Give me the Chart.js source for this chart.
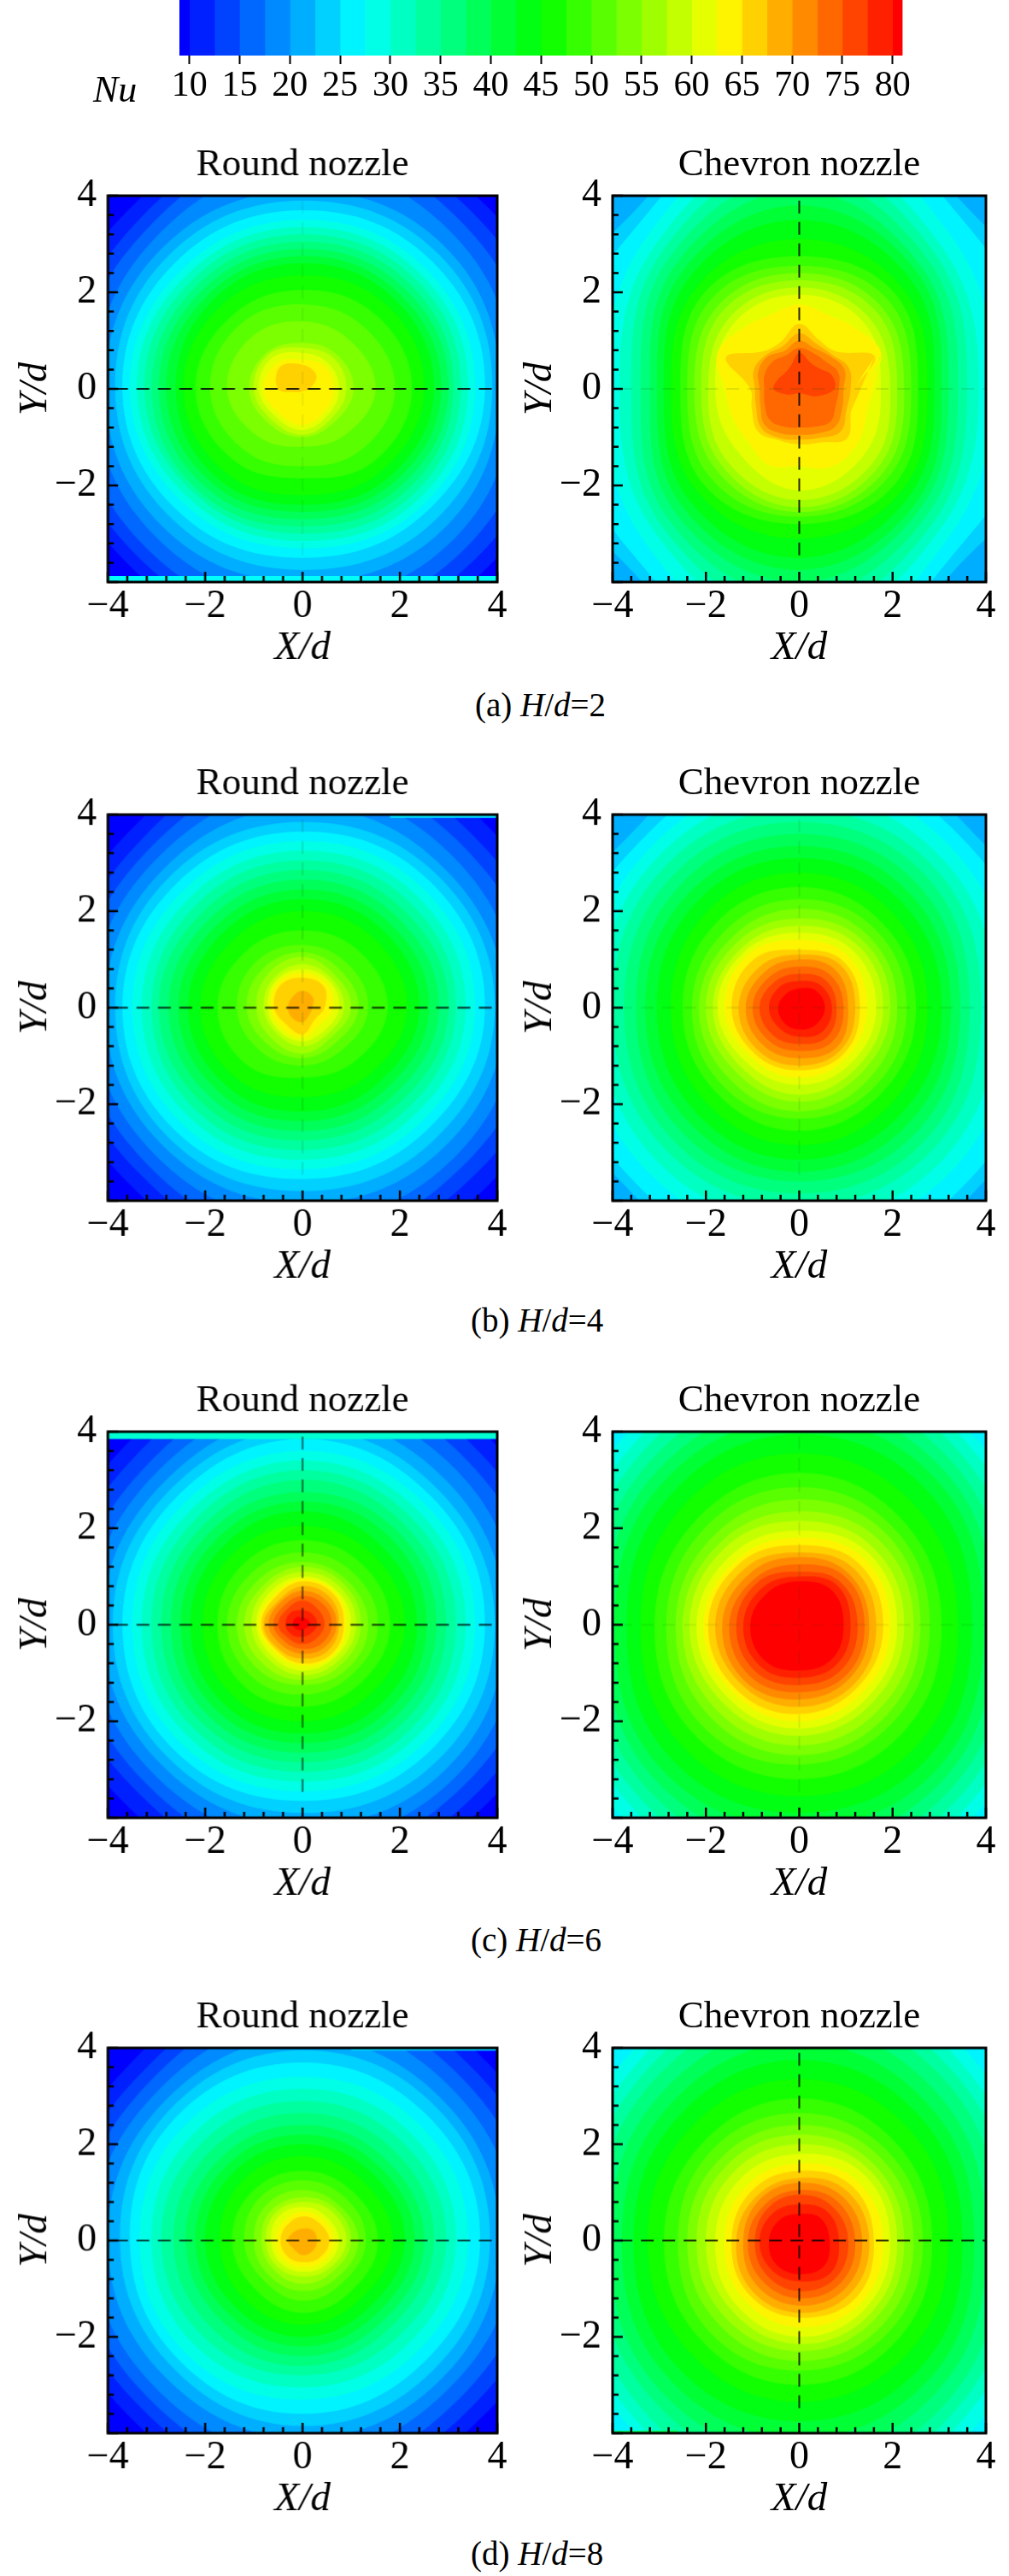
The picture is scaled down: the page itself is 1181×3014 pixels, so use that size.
<!DOCTYPE html>
<html>
<head>
<meta charset="utf-8">
<script src="https://cdn.jsdelivr.net/npm/chart.js@4"></script>
<style>
html, body { margin: 0; padding: 0; background: #fff; }
#page { position: relative; width: 1181px; height: 3014px; overflow: hidden; font-family: "Liberation Serif", serif; color: #000; }
canvas { position: absolute; }
.txt { position: absolute; font-size: 40px; line-height: 42px; white-space: nowrap; }
</style>
</head>
<body>
<div id="page"></div>
<script>
// colour bar
var barEdges = [9, 10, 12.5, 15, 17.5, 20, 22.5, 25, 27.5, 30, 32.5, 35, 37.5, 40, 42.5, 45, 47.5, 50, 52.5, 55, 57.5, 60, 62.5, 65, 67.5, 70, 72.5, 75, 77.5, 80, 81];

// each row is one contour: its Nu level goes up 2.5 per row from the start level,
// the numbers are its radius, going round from +X counter clockwise
var round2Start = 10;
var round2 = [
[5.5,5.35,5.5,5.15,5.3,5.1,5.4,5.3],
[5.1,5.05,5.3,4.85,4.9,4.85,5,5],
[4.7,4.75,5,4.6,4.6,4.6,4.7,4.7],
[4.3,4.45,4.6,4.35,4.25,4.3,4.35,4.4],
[4.05,4.15,4.1,4.1,4.05,4.05,4,4.1],
[3.9,3.95,3.9,3.9,3.85,3.8,3.75,3.85],
[3.75,3.75,3.7,3.7,3.7,3.6,3.5,3.6],
[3.55,3.55,3.5,3.5,3.55,3.4,3.3,3.45],
[3.4,3.4,3.35,3.35,3.4,3.25,3.15,3.3],
[3.25,3.25,3.2,3.2,3.25,3.1,3,3.15],
[3.1,3.1,3.05,3.05,3.1,3,2.85,3],
[3,2.95,2.9,2.9,2.95,2.85,2.7,2.85],
[2.85,2.8,2.75,2.75,2.8,2.7,2.55,2.7],
[2.7,2.65,2.6,2.6,2.6,2.55,2.4,2.55],
[2.5,2.45,2.35,2.4,2.45,2.35,2.2,2.35],
[2.25,2.15,2.05,2.1,2.2,2.05,1.85,2.1],
[1.9,1.8,1.75,1.85,1.9,1.75,1.6,1.75],
[1.5,1.4,1.4,1.5,1.55,1.35,1.2,1.3],
[1.05,1,.95,1.05,1.1,1,1,.95],
[.9,.9,.85,1,1,.9,.95,.85],
[.75,.75,.75,.9,.9,.8,.85,.75],
[.65,.65,.6,.75,.8,.7,.75,.65],
[.15,.4,.5,.65,.5,.1,.05,.05]
];
var chevron2Start = 22.5;
var chevron2 = [
[6.5,5.2,6.5,5.1,6.5,5.2,6.5,5],
[5.2,4.95,6,4.85,5.2,4.95,6,4.75],
[4.15,4.55,5.5,4.55,4.15,4.6,5.5,4.45],
[3.85,4.25,5.1,4.3,3.85,4.3,5,4.2],
[3.6,4.05,4.75,4.1,3.6,4.1,4.65,4],
[3.4,3.85,4.4,3.9,3.4,3.9,4.3,3.8],
[3.2,3.65,4.1,3.7,3.2,3.7,4,3.6],
[3.05,3.5,3.8,3.5,3.05,3.5,3.75,3.45],
[2.9,3.3,3.5,3.3,2.9,3.3,3.5,3.25],
[2.75,3.05,3.1,3.05,2.75,3.05,3.1,3.05],
[2.55,2.85,2.75,2.85,2.55,2.85,2.8,2.85],
[2.4,2.65,2.55,2.65,2.4,2.65,2.65,2.65],
[2.25,2.45,2.4,2.45,2.25,2.45,2.55,2.5],
[2.1,2.3,2.25,2.3,2.1,2.3,2.45,2.35],
[1.95,2.1,2.1,2.1,1.95,2.15,2.3,2.2],
[1.75,1.95,1.95,1.95,1.8,1.85,2.1,1.95],
[1.45,1.9,1.75,1.65,1.75,1.65,1.75,1.9,1.6,1.55,1.55,1.7,1.6,1.75,1.7,1.55],
[1.2,1.75,1.1,1.1,1.35,1.05,1.1,1.7,1.05,1.1,1.25,1.15,1.15,1.2,1.45,1.2],
[1.1,1.15,1,1,1.15,.95,1,1.05,.95,1,1.15,1.1,1.05,1.1,1.25,1.1],
[.95,1.05,.95,.9,1,.85,.95,.95,.85,.9,1.05,1,.95,1,1.1,1],
[.85,.9,.8,.8,.85,.75,.8,.8,.75,.8,.9,.85,.8,.85,.95,.85],
[.75,.75,.6,.6,.75,.5,.45,.5,.55,.3,.15,.1,.1,.1,.15,.4]
];
var round4Start = 10;
var round4 = [
[5.55,5.35,5.6,5.1,5.3,5.1,5.5,5.3],
[5.2,5,5.3,4.8,4.9,4.8,5.1,4.95],
[4.8,4.7,4.9,4.55,4.6,4.55,4.8,4.65],
[4.4,4.4,4.5,4.3,4.3,4.3,4.4,4.4],
[4.15,4.1,4.15,4.05,4.05,4.05,4.05,4.1],
[3.95,3.9,3.85,3.85,3.85,3.85,3.8,3.85],
[3.75,3.7,3.65,3.65,3.7,3.65,3.55,3.6],
[3.55,3.5,3.45,3.45,3.5,3.45,3.35,3.4],
[3.35,3.3,3.25,3.25,3.3,3.25,3.15,3.2],
[3.15,3.1,3.05,3.05,3.1,3.05,2.95,3],
[3,2.9,2.85,2.85,2.95,2.85,2.75,2.8],
[2.8,2.7,2.65,2.65,2.75,2.65,2.55,2.6],
[2.6,2.5,2.45,2.45,2.55,2.45,2.35,2.4],
[2.4,2.3,2.25,2.25,2.35,2.25,2.15,2.2],
[2.15,2.05,2,2,2.1,2,1.85,1.95],
[1.75,1.65,1.6,1.65,1.75,1.65,1.45,1.55],
[1.35,1.3,1.3,1.35,1.35,1.25,1.2,1.2],
[1.15,1.1,1.15,1.15,1.15,1.05,1.05,1],
[1,.95,1.05,1,.95,.9,.95,.85],
[.85,.85,.9,.85,.8,.75,.8,.75],
[.75,.78,.8,.78,.72,.68,.7,.65],
[.62,.7,.72,.72,.65,.6,.62,.5],
[.45,.62,.62,.65,.58,.48,.55,.35],
[.2,.3,.35,.3,.3,.3,.3,.2]
];
var chevron4Start = 22.5;
var chevron4 = [
[6,5.2,6,5.1,6,5.25,6,5.35],
[5.2,4.95,5.2,4.85,5.2,5.05,5.3,5.1],
[4.5,4.65,4.7,4.6,4.55,4.7,4.7,4.7],
[4.2,4.35,4.4,4.35,4.25,4.4,4.4,4.4],
[3.9,4.1,4.1,4.1,4,4.1,4.1,4.1],
[3.65,3.85,3.85,3.85,3.75,3.85,3.85,3.85],
[3.45,3.6,3.6,3.6,3.5,3.6,3.6,3.6],
[3.25,3.35,3.35,3.35,3.3,3.35,3.4,3.35],
[3.05,3.1,3.1,3.1,3.05,3.1,3.15,3.1],
[2.75,2.8,2.8,2.8,2.75,2.8,2.85,2.8],
[2.5,2.5,2.5,2.5,2.5,2.5,2.55,2.5],
[2.3,2.3,2.25,2.25,2.3,2.3,2.3,2.3],
[2.1,2.1,2.05,2.05,2.15,2.1,2.15,2.1],
[1.95,1.95,1.85,1.9,2,1.9,1.95,1.9],
[1.8,1.8,1.7,1.75,1.85,1.75,1.8,1.75],
[1.65,1.65,1.55,1.65,1.75,1.6,1.6,1.6],
[1.45,1.5,1.4,1.55,1.6,1.45,1.45,1.45],
[1.3,1.35,1.2,1.4,1.45,1.35,1.3,1.35],
[1.2,1.25,1.1,1.2,1.3,1.25,1.2,1.25],
[1.05,1.1,1,1.05,1.15,1.1,1.05,1.15],
[.95,.95,.85,.9,1,.95,.9,1],
[.8,.8,.7,.75,.85,.8,.75,.85],
[.7,.65,.55,.6,.65,.6,.6,.7],
[.55,.5,.4,.4,.45,.45,.45,.5]
];
var round6Start = 10;
var round6 = [
[5.6,5.45,5.7,5.2,5.4,5.2,5.5,5.3],
[5.2,5.1,5.4,4.9,5.05,4.85,5.15,5],
[4.8,4.8,5,4.6,4.65,4.6,4.8,4.7],
[4.4,4.5,4.6,4.35,4.35,4.35,4.45,4.45],
[4.15,4.2,4.3,4.1,4.1,4.1,4.15,4.2],
[3.95,3.95,4.05,3.9,3.9,3.9,3.9,3.95],
[3.75,3.75,3.85,3.7,3.7,3.7,3.65,3.7],
[3.55,3.55,3.6,3.5,3.5,3.5,3.45,3.5],
[3.35,3.35,3.4,3.3,3.3,3.3,3.25,3.3],
[3.15,3.15,3.2,3.1,3.1,3.1,3.05,3.1],
[2.95,2.95,3,2.9,2.9,2.9,2.85,2.9],
[2.75,2.75,2.75,2.7,2.7,2.7,2.65,2.7],
[2.55,2.55,2.55,2.5,2.5,2.5,2.45,2.5],
[2.35,2.3,2.35,2.3,2.3,2.3,2.25,2.3],
[2.1,2.05,2.05,2.05,2.05,2.05,2,2],
[1.8,1.75,1.75,1.75,1.75,1.75,1.7,1.7],
[1.55,1.5,1.5,1.5,1.55,1.5,1.45,1.45],
[1.35,1.3,1.3,1.3,1.35,1.3,1.25,1.3],
[1.2,1.2,1.2,1.15,1.2,1.15,1.15,1.15],
[1.1,1.1,1.1,1.05,1.05,1,1.05,1.05],
[1,1,1,.95,.95,.9,.95,.95],
[.9,.95,.95,.85,.9,.8,.85,.9],
[.85,.9,.9,.8,.85,.75,.8,.85],
[.75,.8,.8,.7,.8,.7,.7,.75],
[.7,.7,.7,.65,.7,.6,.6,.65],
[.6,.6,.6,.55,.6,.5,.5,.55],
[.45,.45,.5,.45,.5,.4,.4,.4],
[.3,.3,.3,.35,.35,.3,.25,.25],
[.15,.15,.15,.2,.2,.15,.1,.1]
];
var chevron6Start = 27.5;
var chevron6 = [
[5.55,5.4,6,5.4,5.55,5.5,6,5.45],
[5,5.2,5.7,5.15,5,5.2,5.6,5.2],
[4.7,4.95,5.3,4.9,4.7,4.95,5.2,4.95],
[4.4,4.7,4.9,4.65,4.4,4.7,4.85,4.7],
[4.15,4.45,4.55,4.4,4.15,4.45,4.5,4.45],
[3.95,4.2,4.25,4.15,3.95,4.2,4.2,4.2],
[3.7,3.9,3.95,3.85,3.7,3.9,3.9,3.9],
[3.4,3.5,3.55,3.5,3.4,3.55,3.55,3.55],
[3.05,3.1,3.15,3.1,3.1,3.2,3.2,3.15],
[2.8,2.85,2.85,2.85,2.85,2.95,2.9,2.85],
[2.6,2.65,2.6,2.6,2.65,2.7,2.7,2.65],
[2.45,2.45,2.35,2.4,2.5,2.5,2.5,2.45],
[2.25,2.25,2.15,2.25,2.35,2.3,2.3,2.25],
[2.1,2.1,1.95,2.05,2.2,2.15,2.15,2.1],
[1.95,1.95,1.8,1.9,2.05,2,2,1.95],
[1.8,1.8,1.65,1.8,1.95,1.9,1.85,1.8],
[1.65,1.65,1.5,1.65,1.8,1.75,1.7,1.7],
[1.5,1.5,1.4,1.5,1.65,1.65,1.55,1.55],
[1.4,1.4,1.25,1.35,1.5,1.5,1.4,1.45],
[1.25,1.25,1.1,1.25,1.35,1.35,1.25,1.3],
[1.1,1.15,1,1.1,1.2,1.2,1.1,1.15],
[.95,1,.9,.95,1.05,1.05,.95,1]
];
var round8Start = 10;
var round8 = [
[5.5,5.3,5.7,5.1,5.3,5.1,5.5,5.2],
[5.1,5,5.3,4.8,4.95,4.8,5.15,4.9],
[4.7,4.7,4.95,4.55,4.6,4.55,4.8,4.6],
[4.35,4.4,4.55,4.3,4.3,4.3,4.45,4.3],
[4.05,4.1,4.2,4.05,4,4,4.1,4.05],
[3.85,3.9,3.95,3.85,3.75,3.75,3.85,3.8],
[3.65,3.65,3.7,3.65,3.55,3.55,3.6,3.55],
[3.4,3.4,3.4,3.4,3.35,3.35,3.3,3.3],
[3.15,3.15,3.15,3.15,3.1,3.1,3.05,3.05],
[2.95,2.9,2.9,2.9,2.9,2.85,2.8,2.8],
[2.7,2.65,2.65,2.65,2.65,2.6,2.6,2.55],
[2.5,2.4,2.4,2.4,2.4,2.35,2.4,2.35],
[2.3,2.2,2.2,2.2,2.2,2.15,2.2,2.15],
[2.1,2,2,2,2,1.95,2,1.95],
[1.85,1.75,1.75,1.75,1.7,1.7,1.75,1.7],
[1.55,1.45,1.45,1.45,1.45,1.4,1.5,1.45],
[1.3,1.25,1.25,1.25,1.2,1.15,1.25,1.2],
[1.15,1.05,1.05,1.05,1,1,1.05,1.05],
[1,.95,.9,.9,.85,.85,.9,.9],
[.9,.85,.8,.8,.75,.75,.75,.8],
[.75,.7,.7,.7,.65,.65,.65,.7],
[.65,.6,.6,.55,.55,.55,.55,.6],
[.55,.5,.5,.45,.45,.45,.45,.5],
[.3,.3,.25,.25,.3,.25,.3,.3]
];
var chevron8Start = 27.5;
var chevron8 = [
[5.3,5.3,6,5.3,5.3,5.3,6,5.4],
[4.85,5.05,5.6,5.05,4.85,5.1,5.6,5.1],
[4.55,4.8,5.2,4.8,4.55,4.85,5.2,4.85],
[4.25,4.55,4.8,4.55,4.3,4.55,4.8,4.6],
[4,4.25,4.45,4.25,4.05,4.3,4.45,4.3],
[3.75,3.95,4.1,3.95,3.8,4,4.1,4],
[3.5,3.65,3.75,3.65,3.55,3.7,3.75,3.7],
[3.2,3.3,3.35,3.3,3.25,3.3,3.35,3.3],
[2.85,2.9,2.95,2.9,2.9,2.95,3,2.95],
[2.65,2.65,2.65,2.65,2.6,2.7,2.7,2.7],
[2.45,2.45,2.4,2.4,2.4,2.45,2.5,2.5],
[2.25,2.25,2.2,2.2,2.2,2.25,2.3,2.3],
[2.1,2.1,2,2,2,2.05,2.15,2.15],
[1.95,1.95,1.8,1.8,1.8,1.9,2,2],
[1.8,1.75,1.6,1.6,1.6,1.7,1.8,1.85],
[1.6,1.6,1.45,1.45,1.45,1.55,1.6,1.7],
[1.5,1.45,1.3,1.3,1.35,1.45,1.5,1.55],
[1.35,1.3,1.2,1.2,1.2,1.3,1.35,1.4],
[1.2,1.15,1.05,1.05,1.1,1.15,1.2,1.25],
[1.05,1,.95,.95,.95,1,1.05,1.1],
[.85,.85,.75,.8,.85,.85,.85,.95],
[.65,.65,.55,.6,.65,.7,.7,.75]
];

var contours = [round2, chevron2, round4, chevron4, round6, chevron6, round8, chevron8];
var startLevels = [round2Start, chevron2Start, round4Start, chevron4Start, round6Start, chevron6Start, round8Start, chevron8Start];

var panelTitles = ["Round nozzle", "Chevron nozzle"];
var captionLetters = ["a", "b", "c", "d"];
var captionHd = ["2", "4", "6", "8"];

// dashed centre lines: how dark they show in each panel, and where they run
var crossH = [.85, .12, .85, .1, .8, .08, .7, .8];
var crossV = [.08, .85, .15, .1, .6, .1, 0, .8];
var crossHEnds = [-3.85, 4];
var crossVEnds = [3.9, -3.6];

// thin bright strips along the plate edge: [y, x from, x to, Nu, px wide]
var strips = [[-3.93, -4, 4, 26, 6], null, [3.96, 1.8, 4, 24, 3], null, [3.93, -4, 4, 29, 9], null, [3.97, 1, 4, 23, 3], [-3.98, -4, -2.6, 42, 3]];

// layout in page px
var frameLeft = [126.3, 716.6];
var frameW = [455.4, 437.7];
var rowTop = [229, 953, 1675, 2396];
var rowH = [452, 451.7, 451.8, 450.6];
var captionX = [556, 551, 551, 551];
var captionY = [825, 1545, 2270, 2988];

var serif = "'Liberation Serif', serif";
var page = document.getElementById("page");
Chart.defaults.font.family = serif;
Chart.defaults.color = "#000";
Chart.defaults.animation = false;
Chart.defaults.devicePixelRatio = 1;

function ramp(v) {
	var r = 0, g = 0, b = 0;
	if (v < 27) { g = 255 * (v - 9) / 18; b = 255; }
	else if (v < 45) { g = 255; b = 255 * (45 - v) / 18; }
	else if (v < 63) { r = 255 * (v - 45) / 18; g = 255; }
	else { r = 255; g = 255 * (81 - v) / 18; }
	return "rgb(" + Math.round(r) + "," + Math.round(g) + "," + Math.round(b) + ")";
}
// colour of the band that starts at this level
function bandColor(lo) {
	if (lo < 10) return ramp(9);
	if (lo >= 80) return ramp(81);
	return ramp(lo + 1.25);
}

function addCanvas(left, top, w, h) {
	var cv = document.createElement("canvas");
	cv.width = w;
	cv.height = h;
	cv.style.left = left + "px";
	cv.style.top = top + "px";
	cv.style.width = w + "px";
	cv.style.height = h + "px";
	page.appendChild(cv);
	return cv;
}
function addText(html, left, midY, size) {
	var d = document.createElement("div");
	d.className = "txt";
	d.innerHTML = html;
	d.style.left = left + "px";
	d.style.top = (midY - 21) + "px";
	d.style.fontSize = size + "px";
	page.appendChild(d);
}

// colour bar on top
var barSets = [];
for (var i = 0; i < barEdges.length - 1; i++) {
	barSets.push({
		data: [[barEdges[i], barEdges[i + 1]]],
		backgroundColor: bandColor(barEdges[i]),
		borderWidth: 0,
		barPercentage: 1,
		categoryPercentage: 1,
		grouped: false
	});
}
new Chart(addCanvas(0, 0, 1181, 150), {
	type: "bar",
	data: { labels: ["Nu"], datasets: barSets },
	options: {
		indexAxis: "y",
		responsive: false,
		layout: { padding: { left: 210, right: 124.5 } },
		plugins: { legend: { display: false }, tooltip: { enabled: false } },
		scales: {
			y: { display: false },
			x: {
				min: 9,
				max: 81,
				afterFit: function (s) { s.height = 85; },
				border: { display: false },
				grid: { drawOnChartArea: false, tickLength: 10, tickWidth: 2, tickColor: "#000" },
				ticks: { stepSize: 5, includeBounds: false, autoSkip: false, maxRotation: 0, padding: 5, font: { size: 42, lineHeight: 1 } }
			}
		}
	}
});
addText("<i>Nu</i>", 109, 105, 44);

// inward ticks and the frame
var framePlugin = {
	id: "frame",
	beforeDatasetsDraw: function (chart, args, opts) {
		var a = chart.chartArea, ctx = chart.ctx;
		ctx.save();
		ctx.fillStyle = opts.base;
		ctx.fillRect(a.left, a.top, a.right - a.left, a.bottom - a.top);
		ctx.restore();
	},
	afterDatasetsDraw: function (chart) {
		var a = chart.chartArea, ctx = chart.ctx;
		ctx.save();
		ctx.strokeStyle = "#000";
		ctx.lineWidth = 2.5;
		ctx.beginPath();
		for (var k = 0; k <= 20; k++) {
			var v = -4 + k * 0.4;
			var len = k % 5 == 0 ? 12 : 7;
			var px = chart.scales.x.getPixelForValue(v);
			var py = chart.scales.y.getPixelForValue(v);
			ctx.moveTo(px, a.bottom);
			ctx.lineTo(px, a.bottom - len);
			ctx.moveTo(a.left, py);
			ctx.lineTo(a.left + len, py);
		}
		ctx.stroke();
		ctx.lineWidth = 3;
		ctx.strokeRect(a.left, a.top, a.right - a.left, a.bottom - a.top);
		ctx.restore();
	}
};

function tickLabel(v) {
	if (v == -4 && this.axis == "y") return "";
	return v < 0 ? "\u2212" + Math.abs(v) : "" + v;
}

function crossSet(alpha, pts) {
	return {
		data: pts,
		showLine: true,
		pointRadius: 0,
		borderColor: alpha > .5 ? "rgba(0,0,0," + alpha + ")" : "rgba(0,70,0," + alpha + ")",
		borderWidth: 2,
		borderDash: [15, 10],
		fill: false
	};
}

// the first dataset is painted last, so the hottest contour goes in first
function panelSets(n) {
	var sets = [];
	if (crossH[n] > 0) sets.push(crossSet(crossH[n], [{ x: crossHEnds[0], y: 0 }, { x: crossHEnds[1], y: 0 }]));
	if (crossV[n] > 0) sets.push(crossSet(crossV[n], [{ x: 0, y: crossVEnds[0] }, { x: 0, y: crossVEnds[1] }]));
	if (strips[n]) {
		var st = strips[n];
		sets.push({
			data: [{ x: st[1], y: st[0] }, { x: st[2], y: st[0] }],
			showLine: true,
			pointRadius: 0,
			borderColor: bandColor(st[3]),
			borderWidth: st[4],
			fill: false
		});
	}
	var rows = contours[n];
	for (var r = rows.length - 1; r >= 0; r--) {
		var row = rows[r];
		var m = row.length;
		var pts = [];
		// runs one step past both ends so the curve has no corner where it closes
		for (var j = -1; j <= m + 1; j++) {
			var th = 2 * Math.PI * j / m;
			var rad = row[(j + m) % m];
			pts.push({ x: rad * Math.cos(th), y: rad * Math.sin(th) });
		}
		sets.push({
			label: "Nu " + (startLevels[n] + 2.5 * r),
			data: pts,
			showLine: true,
			tension: 0.4,
			pointRadius: 0,
			borderWidth: 0,
			backgroundColor: bandColor(startLevels[n] + 2.5 * r),
			fill: "shape"
		});
	}
	return sets;
}

var topSpace = 70, bottomSpace = 102, rightSpace = 24;
for (var n = 0; n < 8; n++) {
	(function (n) {
		var col = n % 2, row = Math.floor(n / 2);
		var axisW = 126;
		var cw = axisW + frameW[col] + rightSpace;
		var ch = topSpace + rowH[row] + bottomSpace;
		new Chart(addCanvas(frameLeft[col] - axisW, rowTop[row] - topSpace, cw, ch), {
			type: "scatter",
			data: { datasets: panelSets(n) },
			plugins: [framePlugin],
			options: {
				responsive: false,
				layout: { padding: { right: rightSpace } },
				plugins: {
					legend: { display: false },
					tooltip: { enabled: false },
					frame: { base: bandColor(startLevels[n] - 2.5) },
					title: {
						display: true,
						text: panelTitles[col],
						fullSize: false,
						font: { size: 45, weight: "normal", lineHeight: 1 },
						padding: { top: 11.5, bottom: 13.5 }
					}
				},
				scales: {
					x: {
						min: -4,
						max: 4,
						afterFit: function (s) { s.height = bottomSpace; },
						border: { display: false },
						grid: { display: false, drawTicks: false },
						title: { display: true, text: "X/d", font: { size: 47, style: "italic", lineHeight: 1 }, padding: { top: 0, bottom: 1 } },
						ticks: { stepSize: 2, maxRotation: 0, autoSkip: false, padding: 6, font: { size: 46, lineHeight: 1 }, callback: tickLabel }
					},
					y: {
						min: -4,
						max: 4,
						afterFit: function (s) { s.width = axisW; },
						border: { display: false },
						grid: { display: false, drawTicks: false },
						title: { display: true, text: "Y/d", font: { size: 47, style: "italic", lineHeight: 1 }, padding: { top: 18, bottom: 0 } },
						ticks: { stepSize: 2, maxRotation: 0, autoSkip: false, padding: 13, font: { size: 46, lineHeight: 1 }, callback: tickLabel }
					}
				}
			}
		});
	})(n);
}

for (var c = 0; c < 4; c++) {
	addText("(" + captionLetters[c] + ") <i>H</i>/<i>d</i>=" + captionHd[c], captionX[c], captionY[c], 39);
}
</script>
</body>
</html>
